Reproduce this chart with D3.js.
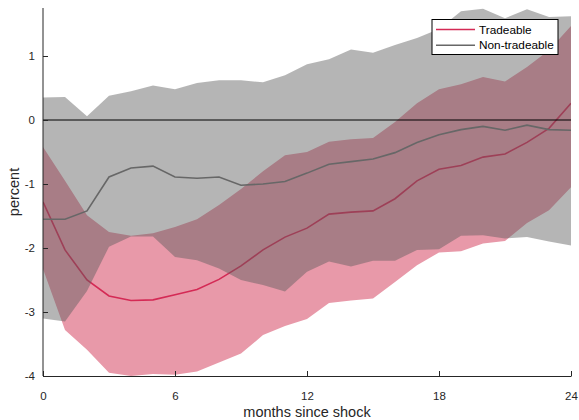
<!DOCTYPE html>
<html>
<head>
<meta charset="utf-8">
<script src="https://cdn.jsdelivr.net/npm/d3@7"></script>
<style>
  html, body { margin: 0; padding: 0; background: #fff; }
  svg { display: block; font-family: "Liberation Sans", Arial, Helvetica, sans-serif; }
</style>
</head>
<body>
<svg id="chart" width="579" height="420"></svg>
<script>
// Impulse responses (percent) by months since the shock, with confidence bands
const months = [0,1,2,3,4,5,6,7,8,9,10,11,12,13,14,15,16,17,18,19,20,21,22,23,24];

const tradeable   = [-1.28,-2.03,-2.50,-2.75,-2.82,-2.81,-2.73,-2.65,-2.49,-2.28,-2.03,-1.83,-1.69,-1.47,-1.44,-1.42,-1.23,-0.95,-0.77,-0.71,-0.58,-0.53,-0.35,-0.13,0.26];
const tradeableLo = [-2.33,-3.28,-3.59,-3.95,-4.00,-3.97,-3.98,-3.93,-3.79,-3.65,-3.36,-3.22,-3.11,-2.86,-2.82,-2.79,-2.53,-2.27,-2.07,-2.05,-1.93,-1.89,-1.61,-1.41,-1.05];
const tradeableHi = [-0.42,-0.95,-1.49,-1.75,-1.81,-1.77,-1.67,-1.55,-1.33,-1.08,-0.80,-0.55,-0.50,-0.34,-0.30,-0.28,-0.03,0.26,0.48,0.56,0.67,0.60,0.83,1.09,1.47];

const nontradeable   = [-1.55,-1.55,-1.42,-0.89,-0.75,-0.72,-0.89,-0.91,-0.89,-1.02,-1.00,-0.96,-0.83,-0.69,-0.65,-0.61,-0.51,-0.35,-0.23,-0.15,-0.10,-0.16,-0.08,-0.15,-0.16];
const nontradeableLo = [-3.10,-3.15,-2.67,-1.98,-1.82,-1.82,-2.14,-2.19,-2.32,-2.50,-2.58,-2.68,-2.37,-2.21,-2.29,-2.20,-2.20,-2.03,-2.02,-1.81,-1.80,-1.85,-1.83,-1.90,-1.96];
const nontradeableHi = [0.35,0.36,0.06,0.38,0.45,0.54,0.48,0.58,0.62,0.62,0.59,0.70,0.87,0.95,1.10,1.05,1.17,1.28,1.42,1.70,1.74,1.59,1.73,1.61,1.62];

const xTicks = [0,6,12,18,24];
const yTicks = [-4,-3,-2,-1,0,1];
const seriesNames = ["Tradeable","Non-tradeable"];

const svg = d3.select("#chart");
const box = { left: 43, right: 571, top: 8, bottom: 376 };

const x = d3.scaleLinear().domain([0,24]).range([box.left, box.right]);
const y = d3.scaleLinear().domain([-4,1.75]).range([box.bottom, box.top]);

const axisColor = "#262626";
const redLine = "#d42a55";
const redBand = "#e899a9";
const grayLine = "#676767";

svg.append("clipPath").attr("id","plotClip")
  .append("rect").attr("x",box.left).attr("y",box.top)
  .attr("width",box.right-box.left).attr("height",box.bottom-box.top);

const plot = svg.append("g").attr("clip-path","url(#plotClip)");

const area = (lo, hi) => d3.area()
  .x((d,i) => x(months[i]))
  .y0((d,i) => y(lo[i]))
  .y1((d,i) => y(hi[i]));
const line = vals => d3.line().x((d,i) => x(months[i])).y((d,i) => y(vals[i]));

// Tradeable band and response
plot.append("path").datum(months)
  .attr("d", area(tradeableLo, tradeableHi))
  .attr("fill", redBand);
plot.append("path").datum(months)
  .attr("d", line(tradeable))
  .attr("fill","none").attr("stroke",redLine).attr("stroke-width",1.6);

// Non-tradeable band (translucent) and response
plot.append("path").datum(months)
  .attr("d", area(nontradeableLo, nontradeableHi))
  .attr("fill", "rgb(90,90,90)").attr("fill-opacity", 0.45);
plot.append("path").datum(months)
  .attr("d", line(nontradeable))
  .attr("fill","none").attr("stroke",grayLine).attr("stroke-width",1.6);

// Zero reference line
plot.append("line")
  .attr("x1", box.left).attr("x2", box.right)
  .attr("y1", y(0)).attr("y2", y(0))
  .attr("stroke","#000").attr("stroke-width",1);

// Axes with inward ticks and plain hyphen minus signs
const fmt = d => String(d);
const xAxis = d3.axisBottom(x).tickValues(xTicks).tickFormat(fmt).tickSize(-5).tickPadding(12).tickSizeOuter(0);
const yAxis = d3.axisLeft(y).tickValues(yTicks).tickFormat(fmt).tickSize(-5).tickPadding(8).tickSizeOuter(0);

const gx = svg.append("g").attr("transform",`translate(0,${box.bottom})`).call(xAxis);
const gy = svg.append("g").attr("transform",`translate(${box.left},0)`).call(yAxis);
gy.select(".domain").attr("d", `M0,${box.top}V${box.bottom}`);

[gx, gy].forEach(g => {
  g.select(".domain").attr("stroke", axisColor).attr("stroke-width", 1);
  g.selectAll(".tick line").attr("stroke", axisColor).attr("stroke-width", 1);
  g.selectAll(".tick text").attr("fill", axisColor)
    .style("font-size","11.5px").style("font-family",'"Liberation Sans", Arial, sans-serif');
});
gx.selectAll(".tick text").attr("dy", null).attr("y", 24);

// Axis titles
svg.append("text")
  .attr("x", (box.left+box.right)/2).attr("y", 417)
  .attr("text-anchor","middle").attr("fill", axisColor)
  .style("font-size","14.5px")
  .text("months since shock");
svg.append("text")
  .attr("transform", `translate(19,${(box.top+box.bottom)/2}) rotate(-90)`)
  .attr("text-anchor","middle").attr("fill", axisColor)
  .style("font-size","14.5px")
  .text("percent");

// Legend
const lg = svg.append("g").attr("transform","translate(432,19.5)");
lg.append("rect").attr("width",126).attr("height",35)
  .attr("fill","#fff").attr("stroke","#000").attr("stroke-width",1);
const legendColors = [redLine, grayLine];
seriesNames.forEach((name,i) => {
  const yy = 10 + i*15.7;
  lg.append("line").attr("x1",4).attr("x2",43).attr("y1",yy).attr("y2",yy)
    .attr("stroke",legendColors[i]).attr("stroke-width",1.6);
  lg.append("text").attr("x",47).attr("y",yy).attr("dy","0.35em")
    .attr("fill","#000").style("font-size","11.8px").text(name);
});
</script>
</body>
</html>
